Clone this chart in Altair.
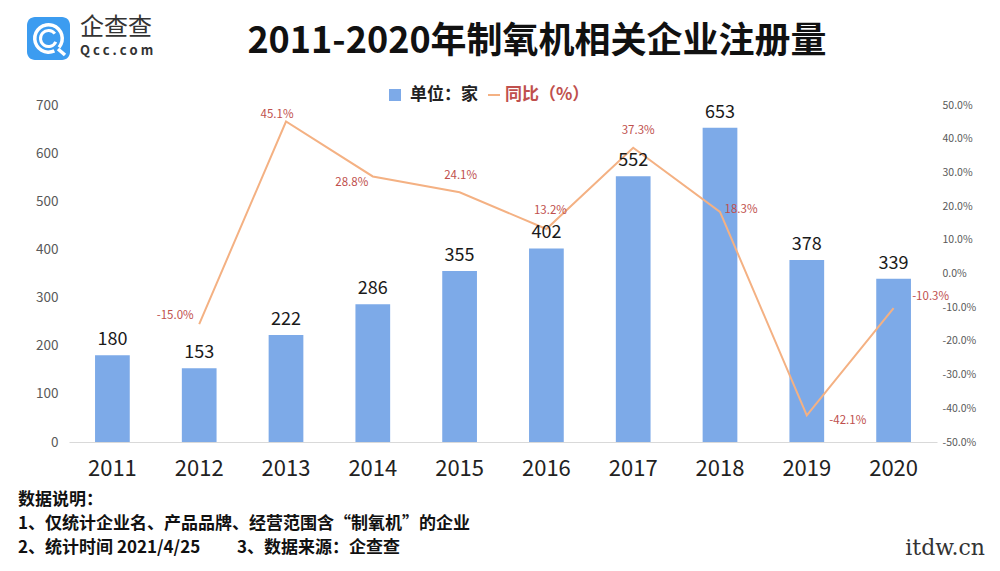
import altair as alt
import pandas as pd

years = ["2011", "2012", "2013", "2014", "2015", "2016", "2017", "2018", "2019", "2020"]
counts = [180, 153, 222, 286, 355, 402, 552, 653, 378, 339]
yoy_years = ["2012", "2013", "2014", "2015", "2016", "2017", "2018", "2019", "2020"]
yoy_pct = [-15.0, 45.1, 28.8, 24.1, 13.2, 37.3, 18.3, -42.1, -10.3]
left_ticks = [0, 100, 200, 300, 400, 500, 600, 700]
right_ticks = [-50, -40, -30, -20, -10, 0, 10, 20, 30, 40, 50]

title_text = "2011-2020年制氧机相关企业注册量"
legend_bar = "单位：家"
legend_line = "同比（%）"
note_head = "数据说明："
note_1 = "1、仅统计企业名、产品品牌、经营范围含“制氧机”的企业"
note_2a = "2、统计时间 2021/4/25"
note_2b = "3、数据来源：企查查"

# label offsets (style only)
lbl_off = {"2012": (-24, -8), "2013": (-9, -7), "2014": (-21, 7), "2015": (1, -16),
           "2016": (4, -18), "2017": (5, -17), "2018": (21, -2), "2019": (41, 6),
           "2020": (37, -11)}

FONT = "Noto Sans CJK SC"
BAR_C = "#7DAAE8"
LINE_C = "#F4B183"
RED = "#C0504D"

bars_df = pd.DataFrame({"year": years, "count": counts})
line_df = pd.DataFrame({"year": yoy_years, "pct": yoy_pct})
one = pd.DataFrame({"d": [0]})

xscale = alt.Scale(domain=years, paddingInner=0.6, paddingOuter=0.3)
xaxis = alt.Axis(title=None, labelFontSize=22, labelColor="#222222", labelFont=FONT,
                 labelPadding=16, ticks=False, tickSize=0, domainColor="#D9D9D9",
                 labelAngle=0, grid=False)


def xenc(center=False):
    if center:
        return alt.X("year:N", scale=xscale, axis=xaxis, bandPosition=0.5)
    return alt.X("year:N", scale=xscale, axis=xaxis)


yleft = alt.Scale(domain=[0, 700], nice=False)
yright = alt.Scale(domain=[-50, 50], nice=False)
pct_expr = "(datum.value < 0 ? '-' : '') + format(abs(datum.value), '.1f') + '%'"

bars = alt.Chart(bars_df).mark_bar(color=BAR_C).encode(
    x=xenc(),
    y=alt.Y("count:Q", scale=yleft,
            axis=alt.Axis(title=None, values=left_ticks, labelFontSize=13.5, labelColor="#595959",
                          labelFont=FONT, ticks=False, domain=False, grid=False, labelPadding=11)),
)
line = alt.Chart(line_df).mark_line(color=LINE_C, strokeWidth=2).encode(
    x=xenc(True),
    y=alt.Y("pct:Q", scale=yright,
            axis=alt.Axis(title=None, orient="right", values=right_ticks, labelFontSize=10.5,
                          labelColor="#595959", labelFont=FONT, ticks=False, domain=False,
                          grid=False, labelPadding=5, labelExpr=pct_expr)),
)
bar_text = alt.Chart(bars_df).mark_text(baseline="bottom", dy=-6, fontSize=18, font=FONT,
                                        color="#1a1a1a").encode(
    x=xenc(True), y=alt.Y("count:Q", scale=yleft, axis=None), text="count:Q")

line_labels = []
for yr in yoy_years:
    dx, dy = lbl_off[yr]
    line_labels.append(
        alt.Chart(line_df).transform_filter(alt.datum.year == yr).transform_calculate(
            lab="(datum.pct < 0 ? '-' : '') + format(abs(datum.pct), '.1f') + '%'"
        ).mark_text(fontSize=11.5, font=FONT, color=RED, dx=dx, dy=dy).encode(
            x=xenc(True), y=alt.Y("pct:Q", scale=yright, axis=None), text="lab:N"))


def deco_text(txt, x, y, **kw):
    return alt.Chart(one).mark_text(text=txt, font=kw.pop("font", FONT), **kw).encode(
        x=alt.value(x), y=alt.value(y))


decos = []
# title
decos.append(deco_text(title_text, 468, -63, fontSize=36, fontWeight="bold", color="#111111",
                       align="center", baseline="middle"))
# logo
decos.append(alt.Chart(one).mark_rect(color="#3C9CF0", cornerRadius=8).encode(
    x=alt.value(-42), x2=alt.value(1), y=alt.value(-88), y2=alt.value(-45)))
for r1, r2, t1, t2 in [(12, 15.5, 2.7, 8.55), (6.5, 9.5, 2.0, 7.2)]:
    decos.append(alt.Chart(one).mark_arc(color="white").encode(
        x=alt.value(-20.5), y=alt.value(-66.5), theta=alt.value(t1), theta2=alt.value(t2),
        radius=alt.value(r2), radius2=alt.value(r1)))
decos.append(alt.Chart(one).mark_rule(color="white", strokeWidth=3.5).encode(
    x=alt.value(-11), x2=alt.value(-4), y=alt.value(-56), y2=alt.value(-50)))
decos.append(deco_text("企查查", 11, -77, fontSize=24, color="#333333", align="left",
                       baseline="middle"))
decos.append(deco_text("Q c c . c o m", 11, -54, fontSize=13, color="#333333", align="left",
                       baseline="middle", fontWeight="bold"))
# legend
decos.append(alt.Chart(one).mark_rect(color=BAR_C).encode(
    x=alt.value(320), x2=alt.value(332), y=alt.value(-16), y2=alt.value(-4)))
decos.append(deco_text(legend_bar, 341, -10, fontSize=17, fontWeight="bold", color="#222222",
                       align="left", baseline="middle"))
decos.append(alt.Chart(one).mark_rule(color=LINE_C, strokeWidth=2).encode(
    x=alt.value(419), x2=alt.value(431), y=alt.value(-10)))
decos.append(deco_text(legend_line, 436, -10, fontSize=17, fontWeight="bold", color=RED,
                       align="left", baseline="middle"))
# notes
for t, x, y in [(note_head, -51, 395), (note_1, -51, 419), (note_2a, -51, 443),
                (note_2b, 168, 443)]:
    decos.append(deco_text(t, x, y, fontSize=17, fontWeight="bold",
                           color="#111111", align="left", baseline="middle"))
# watermark
decos.append(deco_text("itdw.cn", 916, 450, fontSize=22, color="#333333", align="right",
                       baseline="alphabetic", font="DejaVu Serif"))

chart = alt.layer(bars, line, bar_text, *line_labels, *decos).resolve_scale(
    y="independent").properties(
    width=868, height=337,
    autosize=alt.AutoSizeParams(type="none"),
    padding={"left": 61, "top": 97, "right": 55, "bottom": 117},
    background="white",
).configure_view(stroke=None)

chart.save("out.html", embed_options={"renderer": "svg", "actions": False})
